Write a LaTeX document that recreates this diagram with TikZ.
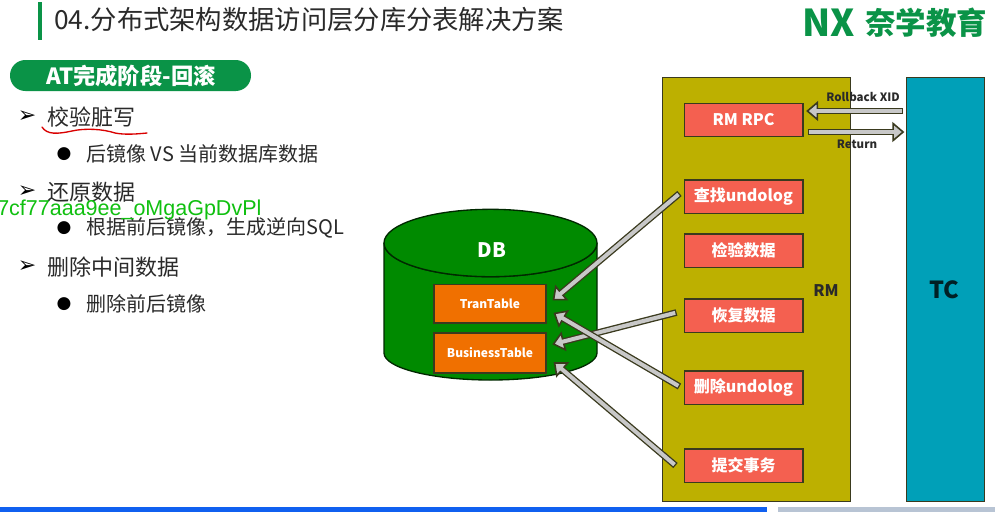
\documentclass[tikz,border=0pt]{standalone}
\usepackage{fontspec}
\setmainfont{Noto Sans CJK SC}
\newfontfamily\dejafont{DejaVu Sans}
\newfontfamily\wmfont{Liberation Sans}
\usetikzlibrary{arrows.meta,shapes.geometric,calc}
\definecolor{brandgreen}{HTML}{0A9347}
\definecolor{dbgreen}{HTML}{008A00}
\definecolor{rmolive}{HTML}{BDB000}
\definecolor{tcteal}{HTML}{00A0B8}
\definecolor{boxred}{HTML}{F46050}
\definecolor{taborange}{HTML}{F07000}
\definecolor{edgedark}{HTML}{3A3A1E}
\definecolor{arrowgray}{HTML}{C8C8C8}
\definecolor{textdark}{HTML}{2A2A2A}
\definecolor{barblue}{HTML}{1060F0}
\definecolor{bargray}{HTML}{B8C4D4}
\definecolor{wmgreen}{HTML}{10C010}
\newcommand{\pxfont}[1]{\fontsize{\dimexpr#1pt*3/4\relax}{\dimexpr#1pt\relax}\selectfont}
\tikzset{
  x=0.75pt,y=-0.75pt,
  rmbox/.style={draw=edgedark,line width=1pt,fill=boxred,minimum width=89pt,minimum height=25pt,inner sep=0pt,text=white,font=\pxfont{16}\bfseries},
  tabbox/.style={draw=edgedark,line width=1pt,fill=taborange,minimum width=84pt,inner sep=0pt,text=white,font=\pxfont{12}\bfseries},
  big/.style={draw=edgedark,line width=1pt,anchor=north west,inner sep=0pt},
  lvlone/.style={anchor=west,inner sep=0pt,text=textdark,font=\pxfont{22}},
  lvltwo/.style={anchor=west,inner sep=0pt,text=textdark,font=\pxfont{20}},
  mark one/.style={inner sep=0pt,text=black,font=\dejafont\pxfont{22}},
  mark two/.style={inner sep=0pt,text=black,font=\dejafont\pxfont{17}},
  fatout/.style={draw=edgedark,line width=5pt,-{Triangle[open,length=9pt,width=15pt,line width=1.2pt,fill=arrowgray]},shorten >=-1pt},
  fatin/.style={draw=arrowgray,line width=3pt,shorten >=4pt,shorten <=1pt},
  lbl/.style={inner sep=0pt,text=textdark,font=\bfseries\pxfont{11.5}},
}
\newcommand{\fat}[2]{\draw[fatout] (#1) -- (#2);\draw[fatin] (#1) -- (#2);}
\begin{document}
\begin{tikzpicture}
\useasboundingbox (0,0) rectangle (995,512);
\fill[white] (0,0) rectangle (995,512);
% header
\fill[brandgreen] (38,2) rectangle (42,40);
\node[anchor=west,inner sep=0pt,text=textdark,font=\pxfont{26.3}] (title) at (54,20) {04.分布式架构数据访问层分库分表解决方案};
\node[anchor=west,inner sep=0pt,text=brandgreen,font=\bfseries\pxfont{37}] (logoa) at (802,23) {NX};
\node[anchor=west,inner sep=0pt,text=brandgreen,font=\bfseries\pxfont{30.5}] (logob) at (865,23) {奈学教育};
% pill
\fill[brandgreen,rounded corners=11.5pt] (10,60) rectangle (251,91);
\node[anchor=west,inner sep=0pt,text=white,font=\bfseries\pxfont{22.3}] (pill) at (46,76) {AT完成阶段-回滚};
% list
\node[mark one] (m1) at (27,117) {➢};
\node[lvlone] (t1) at (47,117) {校验脏写};
\node[mark two] (b1) at (64,154) {●};
\node[lvltwo] (s1) at (86,154) {后镜像 VS 当前数据库数据};
\node[mark one] (m2) at (27,192) {➢};
\node[lvlone] (t2) at (47,192) {还原数据};
\node[mark two] (b2) at (64,228) {●};
\node[lvltwo] (s2) at (86,228) {根据前后镜像，生成逆向SQL};
\node[mark one] (m3) at (27,267) {➢};
\node[lvlone] (t3) at (47,267) {删除中间数据};
\node[mark two] (b3) at (64,304) {●};
\node[lvltwo] (s3) at (86,304) {删除前后镜像};
\draw[red!85!black,line width=1pt,line cap=round] (42,127) .. controls (47,135) and (58,134) .. (72,131) .. controls (85,128) and (103,129) .. (115,133) .. controls (125,135) and (137,134) .. (147,133);
\node[anchor=west,inner sep=0pt,text=wmgreen,font=\wmfont\pxfont{21.5}] (wm) at (-3,210) {7cf77aaa9ee\_oMgaGpDvPl};
% DB cylinder
\path[draw=black!70!dbgreen,fill=dbgreen,line width=1pt] (384,243) arc[start angle=180,end angle=360,x radius=106.5,y radius=-33.7] -- (597,353) arc[start angle=0,end angle=-180,x radius=106.5,y radius=-27] -- cycle;
\draw[draw=black!70!dbgreen,fill=dbgreen,line width=1pt] (490.5,243) ellipse [x radius=106.5,y radius=-33.7];
\node[inner sep=0pt,text=white,font=\bfseries\pxfont{20}] (db) at (492,250) {DB};
\node[tabbox,minimum height=29pt] (tran) at (490,303.5) {TranTable};
\node[tabbox,minimum height=30pt] (biz) at (490,353) {BusinessTable};
% RM and TC
\node[big,fill=rmolive,minimum width=141pt,minimum height=318pt] (rm) at (662,77) {};
\node[big,fill=tcteal,minimum width=58.5pt,minimum height=318pt] (tc) at (906,77) {};
\node[inner sep=0pt,text=textdark,font=\bfseries\pxfont{16}] (rmlbl) at (826,291) {RM};
\node[inner sep=0pt,text=black!80!tcteal,font=\bfseries\pxfont{23.5}] (tclbl) at (944,290) {TC};
\node[rmbox] (rpc) at (743.5,120) {RM RPC};
\node[rmbox] (find) at (743.5,196.5) {查找undolog};
\node[rmbox] (chk) at (743.5,250.5) {检验数据};
\node[rmbox] (rest) at (743.5,315.5) {恢复数据};
\node[rmbox] (del) at (743.5,387.5) {删除undolog};
\node[rmbox] (com) at (743.5,465.5) {提交事务};
% connectors
\coordinate (fa) at ($(find.west)+(-4,-3)$);
\coordinate (fb) at ($(tran.east)+(7,-4)$);
\coordinate (ra) at ($(rest.west)+(-7,-3)$);
\coordinate (rb) at ($(biz.east)+(7,-9)$);
\coordinate (da) at ($(del.west)+(-4,-1)$);
\coordinate (db2) at ($(tran.east)+(8,10)$);
\coordinate (ca) at ($(com.west)+(-8,0)$);
\coordinate (cb) at ($(biz.east)+(8,10)$);
\coordinate (ra1) at ($(tc.north west)+(-3,34)$);
\coordinate (ra2) at ($(rpc.east)+(4,-9)$);
\coordinate (rb1) at ($(rpc.east)+(4,12)$);
\coordinate (rb2) at ($(tc.north west)+(-3,55)$);
\fat{fa}{fb}
\fat{ra}{rb}
\fat{da}{db2}
\fat{ca}{cb}
\fat{ra1}{ra2}
\fat{rb1}{rb2}
\node[lbl] (rx) at (863,97) {Rollback XID};
\node[lbl] (rt) at (857,144) {Return};
% bottom bars
\fill[barblue] (0,507) rectangle (767,512);
\fill[bargray] (778,507) rectangle (995,512);
\end{tikzpicture}
\end{document}
